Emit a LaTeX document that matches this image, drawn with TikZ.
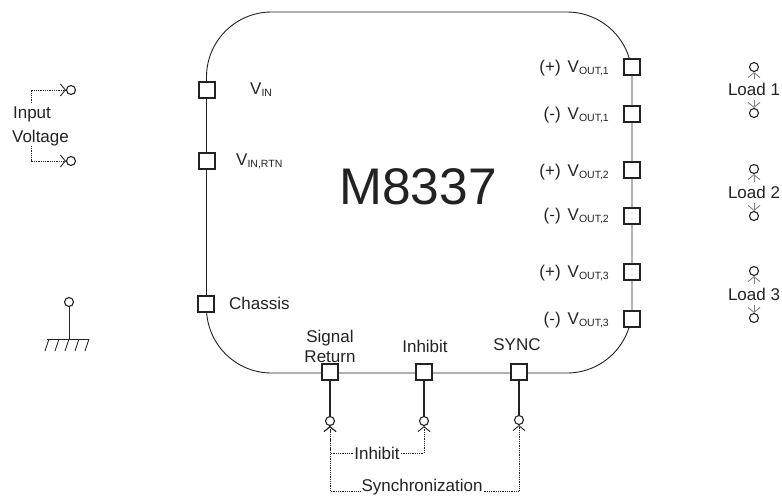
\documentclass[tikz,border=0pt]{standalone}
\usepackage{fontspec}
\setmainfont{Liberation Sans}
\usetikzlibrary{arrows.meta}
\newcommand{\subs}[1]{\raisebox{-2.2pt}{\fontsize{10.5}{12}\selectfont #1}}
\newcommand{\polgap}{\hspace{7pt}}
\definecolor{ink}{HTML}{222222}
\tikzset{
  x=1pt,y=-1pt,
  every node/.style={text=ink},
  lbl/.style={font=\fontsize{17}{19}\selectfont,inner sep=0pt},
  lblr/.style={lbl,anchor=base east},
  lbll/.style={lbl,anchor=base west},
  term/.style={draw=ink,line width=2pt,fill=white,minimum size=16pt,inner sep=0pt},
  pin/.style={circle,draw=ink,line width=1.1pt,fill=white,minimum size=9pt,inner sep=0pt},
  stem/.style={draw=ink,line width=1.2pt},
  dot/.style={draw=ink,line width=0.8pt,densely dotted},
  tip/.style={-{Straight Barb[length=5pt,width=12pt,line width=0.9pt]}},
  tipgray/.style={draw=gray,line width=0.8pt,shorten <=4pt}
}
\begin{document}
\begin{tikzpicture}
\useasboundingbox (0,0) rectangle (782,496);
\draw[ink,line width=0.9pt,rounded corners=65pt] (206.5,12) rectangle (632,373);
\node[term] (vin) at (207,90) {};
\node[term] (rtn) at (207,161) {};
\node[term] (cha) at (206,304) {};
\node[term] (o1p) at (632,67) {};
\node[term] (o1m) at (632,114) {};
\node[term] (o2p) at (632,170) {};
\node[term] (o2m) at (632,216) {};
\node[term] (o3p) at (632,272) {};
\node[term] (o3m) at (632,319) {};
\node[term] (sig) at (330,372) {};
\node[term] (inh) at (424,372) {};
\node[term] (syn) at (519,372) {};
\node[lbll] (lvin) at (250,94) {V\subs{IN}};
\node[lbll] (lrtn) at (236,165.5) {V\subs{IN,RTN}};
\node[lbll] (lcha) at (229,309) {Chassis};
\node[lblr] (l1p) at (609,72.5) {(+)\polgap V\subs{OUT,1}};
\node[lblr] (l1m) at (609,119.5) {(-)\polgap V\subs{OUT,1}};
\node[lblr] (l2p) at (609,176) {(+)\polgap V\subs{OUT,2}};
\node[lblr] (l2m) at (609,220) {(-)\polgap V\subs{OUT,2}};
\node[lblr] (l3p) at (609,277.5) {(+)\polgap V\subs{OUT,3}};
\node[lblr] (l3m) at (609,324.5) {(-)\polgap V\subs{OUT,3}};
\node[lbl] (title) at (418,187) {\fontsize{51.5}{56}\selectfont M8337};
\node[lbl] (lsig1) at (330,338) {Signal};
\node[lbl] (lsig2) at (330,357) {Return};
\node[lbl] (linh) at (425,346) {Inhibit};
\node[lbl] (lsyn) at (517,345) {SYNC};
\node[lbl] (inp) at (32,114) {Input};
\node[lbl] (volt) at (40.5,138) {Voltage};
\node[pin] (p1) at (71,90) {};
\node[pin] (p2) at (71,161) {};
\draw[dot,tip] (31,103) |- (p1.west);
\draw[dot,tip] (31,146) |- (p2.west);
\node[pin] (g) at (69,302) {};
\coordinate (gb) at (69,339);
\draw[ink,line width=0.9pt] (g) -- (gb);
\draw[ink,line width=0.9pt] (47,339) -- (89,339);
\foreach \xx in {49,59,69,79,89}{\draw[ink,line width=0.9pt] (\xx,339) -- (\xx-4,351);}
\node[pin] (ps) at (330,421) {};
\node[pin] (pi) at (424,421) {};
\node[pin] (py) at (519,420) {};
\draw[stem] (sig) -- (ps);
\draw[stem] (inh) -- (pi);
\draw[stem] (syn) -- (py);
\node[lbl,fill=white,inner xsep=1pt] (tinh) at (377,453) {Inhibit};
\node[lbl,fill=white,inner xsep=1pt] (tsyn) at (422,487.5) {Synchronization};
\coordinate (ry) at (0,491);
\draw[dot,tip] (tinh.west) -| (ps.south);
\draw[dot,tip] (tinh.east) -| (pi.south);
\draw[dot,tip] (tsyn.west |- ry) -| (ps.south);
\draw[dot,tip] (tsyn.east |- ry) -| (py.south);
\foreach \n/\yt/\yl/\yb in {1/67/89.5/113,2/169/192.5/216,3/271/294.5/318}{
  \node[pin] (a\n) at (754,\yt) {};
  \node[pin] (b\n) at (754,\yb) {};
  \node[lbl] (load\n) at (754,\yl) {Load \n};
  \draw[tipgray,tip] (load\n.north) -- (a\n.south);
  \draw[tipgray,tip] (load\n.south) -- (b\n.north);
}
\end{tikzpicture}
\end{document}
